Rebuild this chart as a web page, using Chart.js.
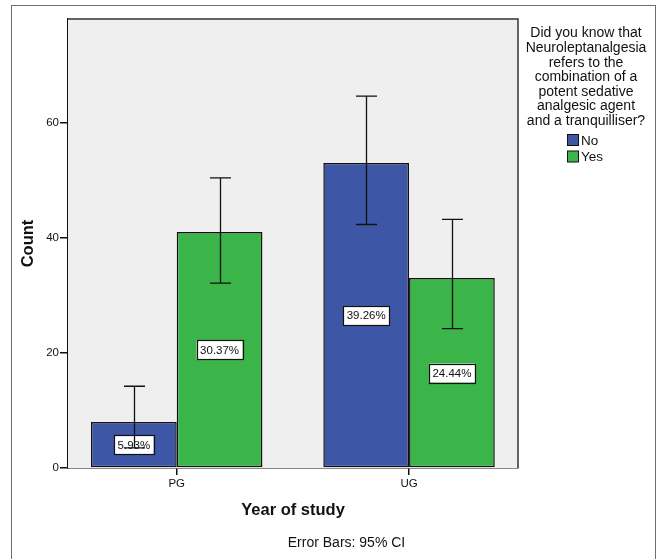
<!DOCTYPE html>
<html>
<head>
<meta charset="utf-8">
<script src="https://cdn.jsdelivr.net/npm/chart.js@4.4.1/dist/chart.umd.min.js"></script>
<style>
    html, body { margin: 0; padding: 0; background: #fff; }
    #wrap { position: relative; width: 659px; height: 559px; }
    #frame {
        position: absolute; left: 11px; top: 5px; width: 645px; height: 560px;
        border: 1.5px solid #6e6e6e; box-sizing: border-box;
    }
    canvas { position: absolute; left: 0; top: 0; }
</style>
</head>
<body>
<div id="wrap">
    <div id="frame"></div>
    <canvas id="chart" width="659" height="559"></canvas>
</div>
<script>
// values
const categories = ['PG', 'UG'];
const categoryPos = [0, 1];
const seriesNames = ['No', 'Yes'];
const noCounts = [8, 53];
const yesCounts = [41, 33];
const noLow = [3.5, 42.3];
const noHigh = [14.2, 64.6];
const yesLow = [32.1, 24.2];
const yesHigh = [50.4, 43.2];
const noLabels = ['5.93%', '39.26%'];
const yesLabels = ['30.37%', '24.44%'];
const yTicks = [0, 20, 40, 60];
const legendTitle = ['Did you know that', 'Neuroleptanalgesia', 'refers to the', 'combination of a',
    'potent sedative', 'analgesic agent', 'and a tranquilliser?'];

const FONT = '"Liberation Sans", Arial, sans-serif';
const colors = ['#3d56a6', '#3bb54a'];

function points(values) {
    return values.map((v, i) => ({ x: categoryPos[i], y: v }));
}

const datasets = [
    { label: seriesNames[0], data: points(noCounts), low: noLow, high: noHigh, pct: noLabels },
    { label: seriesNames[1], data: points(yesCounts), low: yesLow, high: yesHigh, pct: yesLabels }
].map((d, i) => Object.assign(d, {
    backgroundColor: colors[i],
    borderColor: '#111',
    borderWidth: 1.5,
    borderSkipped: false,
    categoryPercentage: 0.738,
    barPercentage: 1.0
}));

// plot background + top/right frame
const plotFrame = {
    id: 'plotFrame',
    beforeDatasetsDraw(chart) {
        const a = chart.chartArea, ctx = chart.ctx;
        ctx.save();
        ctx.fillStyle = '#efefef';
        ctx.fillRect(a.left, a.top, a.right - a.left, a.bottom - a.top);
        ctx.restore();
    },
    afterDraw(chart) {
        const a = chart.chartArea, ctx = chart.ctx;
        ctx.save();
        ctx.strokeStyle = '#333';
        ctx.lineWidth = 1.5;
        ctx.beginPath();
        ctx.moveTo(a.left, a.top);
        ctx.lineTo(a.right, a.top);
        ctx.lineTo(a.right, a.bottom);
        ctx.stroke();
        ctx.restore();
    }
};

// percentage boxes, then error bars on top
const barExtras = {
    id: 'barExtras',
    afterDatasetsDraw(chart) {
        const ctx = chart.ctx, y = chart.scales.y;
        ctx.save();
        ctx.font = '11.5px ' + FONT;
        ctx.textAlign = 'center';
        ctx.textBaseline = 'middle';
        chart.data.datasets.forEach((ds, di) => {
            chart.getDatasetMeta(di).data.forEach((bar, i) => {
                const cy = y.getPixelForValue(ds.data[i].y / 2);
                const w = ctx.measureText(ds.pct[i]).width + 7;
                const h = 19;
                ctx.fillStyle = '#fff';
                ctx.fillRect(bar.x - w / 2, cy - h / 2, w, h);
                ctx.strokeStyle = '#111';
                ctx.lineWidth = 1.2;
                ctx.strokeRect(Math.round(bar.x - w / 2) + 0.5, Math.round(cy - h / 2) + 0.5, Math.round(w), h);
                ctx.fillStyle = '#111';
                ctx.fillText(ds.pct[i], bar.x, cy + 0.5);
            });
        });
        ctx.strokeStyle = '#111';
        ctx.lineWidth = 1.3;
        chart.data.datasets.forEach((ds, di) => {
            chart.getDatasetMeta(di).data.forEach((bar, i) => {
                const x = Math.round(bar.x) + 0.5;
                const top = y.getPixelForValue(ds.high[i]);
                const bot = y.getPixelForValue(ds.low[i]);
                ctx.beginPath();
                ctx.moveTo(x, top); ctx.lineTo(x, bot);
                ctx.moveTo(x - 10.5, top); ctx.lineTo(x + 10.5, top);
                ctx.moveTo(x - 10.5, bot); ctx.lineTo(x + 10.5, bot);
                ctx.stroke();
            });
        });
        ctx.restore();
    }
};

// legend block on the right and the footnote
const sideText = {
    id: 'sideText',
    afterDraw(chart) {
        const ctx = chart.ctx;
        ctx.save();
        ctx.fillStyle = '#111';
        ctx.font = '14px ' + FONT;
        ctx.textAlign = 'center';
        ctx.textBaseline = 'middle';
        legendTitle.forEach((line, i) => ctx.fillText(line, 586, 33.5 + i * 14.6));
        ctx.font = '13.5px ' + FONT;
        ctx.textAlign = 'left';
        chart.data.datasets.forEach((ds, i) => {
            const cy = 140 + i * 16.5;
            ctx.fillStyle = ds.backgroundColor;
            ctx.fillRect(567.5, cy - 5.5, 11, 11);
            ctx.strokeStyle = '#111';
            ctx.lineWidth = 1;
            ctx.strokeRect(567.5, cy - 5.5, 11, 11);
            ctx.fillStyle = '#111';
            ctx.fillText(ds.label, 581, cy + 1);
        });
        ctx.font = '14px ' + FONT;
        ctx.textAlign = 'center';
        ctx.fillText('Error Bars: 95% CI', 346.5, 543);
        ctx.restore();
    }
};

new Chart(document.getElementById('chart'), {
    type: 'bar',
    data: { datasets: datasets },
    plugins: [plotFrame, barExtras, sideText],
    options: {
        responsive: false,
        animation: false,
        layout: { padding: { left: 0, top: 19, right: 141, bottom: 0 } },
        plugins: { legend: { display: false }, tooltip: { enabled: false } },
        scales: {
            x: {
                type: 'linear',
                min: -0.468,
                max: 1.469,
                offset: false,
                afterBuildTicks: s => { s.ticks = categoryPos.map(v => ({ value: v })); },
                afterFit: s => { s.height = 91; },
                ticks: {
                    callback: v => categories[v],
                    font: { family: FONT, size: 11.5 },
                    color: '#111',
                    padding: 2,
                    maxRotation: 0
                },
                grid: { offset: false, drawOnChartArea: false, drawTicks: true, tickLength: 7, color: '#111', lineWidth: 1.5 },
                border: { display: true, color: '#111', width: 1.5 },
                title: {
                    display: true,
                    text: 'Year of study',
                    font: { family: FONT, size: 16.5, weight: 'bold' },
                    color: '#111',
                    padding: { top: 0, bottom: 39 }
                }
            },
            y: {
                min: 0,
                max: 78,
                afterBuildTicks: s => { s.ticks = yTicks.map(v => ({ value: v })); },
                afterFit: s => { s.width = 68; },
                ticks: {
                    font: { family: FONT, size: 11.5 },
                    color: '#111',
                    padding: 1
                },
                grid: { drawOnChartArea: false, drawTicks: true, tickLength: 8, color: '#111', lineWidth: 1.5 },
                border: { display: true, color: '#111', width: 1.5 },
                title: {
                    display: true,
                    text: 'Count',
                    font: { family: FONT, size: 16.5, weight: 'bold' },
                    color: '#111',
                    padding: { top: 19, bottom: 0 }
                }
            }
        }
    }
});
</script>
</body>
</html>
